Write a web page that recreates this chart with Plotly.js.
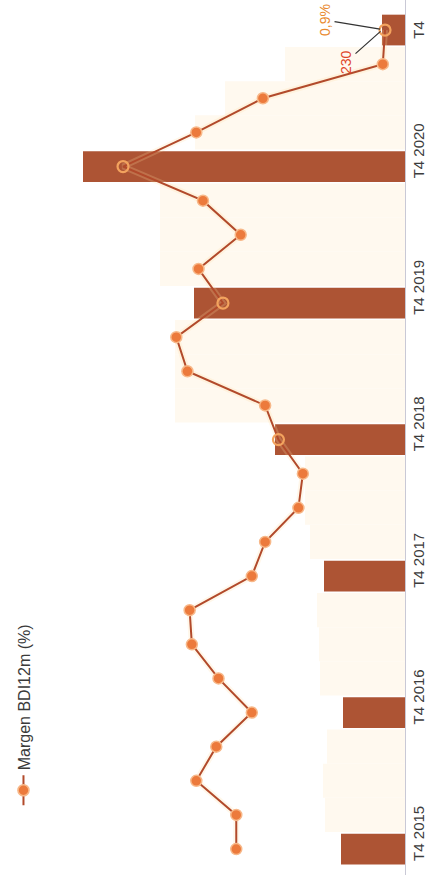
<!DOCTYPE html>
<html>
<head>
<meta charset="utf-8">
<script src="https://cdn.plot.ly/plotly-3.0.1.min.js"></script>
<style>
  html, body { margin: 0; padding: 0; background: #ffffff; overflow: hidden; width: 435px; height: 875px; }
  #wrap { position: absolute; left: 0; top: 0; width: 875px; height: 435px;
          transform-origin: 0 0; transform: translate(0px, 875px) rotate(-90deg); }
</style>
</head>
<body>
<div id="wrap"><div id="chart" style="width:875px;height:435px;"></div></div>
<script>
// Quarters (category order)
const quarters = ['T4 2015','T1 2016','T2 2016','T3 2016','T4 2016',
                  'T1 2017','T2 2017','T3 2017','T4 2017',
                  'T1 2018','T2 2018','T3 2018','T4 2018',
                  'T1 2019','T2 2019','T3 2019','T4 2019',
                  'T1 2020','T2 2020','T3 2020','T4 2020',
                  'T1 2021','T2 2021','T3 2021','T4 2021'];
// Bar values (volume)
const volumen = [640, 800, 820, 780, 620,
                 850, 860, 880, 810,
                 950, 1000, 1000, 1300,
                 2300, 2300, 2300, 2110,
                 2450, 2450, 2450, 3220,
                 2100, 1800, 1200, 230];
// Margen BDI12m (%)
const margen = [7.6, 7.6, 9.4, 8.5, 6.9,
                8.4, 9.6, 9.7, 6.9,
                6.3, 4.8, 4.6, 5.7,
                6.3, 9.8, 10.3, 8.2,
                9.3, 7.4, 9.1, 12.7,
                9.4, 6.4, 1.0, 0.9];
// Tick labels shown
const tickLabels = ['T4 2015','T4 2016','T4 2017','T4 2018','T4 2019','T4 2020','T4'];
const tickQuarters = ['T4 2015','T4 2016','T4 2017','T4 2018','T4 2019','T4 2020','T4 2021'];

const idx = quarters.map((q, i) => i);
const BROWN = '#AD5434', CREAM = '#FFF9EF';
const isT4 = quarters.map(q => q.startsWith('T4'));
const barColors = isT4.map(b => b ? BROWN : CREAM);
const barWidths = isT4.map(b => b ? 0.9 : 1.0);
// open markers where the point sits on a T4 bar
const onBar = quarters.map((q, i) => isT4[i] && (volumen[i] / 3650) >= (margen[i] / 16.44));
const symbols = onBar.map(b => b ? 'circle-open' : 'circle');
const mColors = onBar.map(b => b ? '#F3A35E' : '#EC7A3C');
const mLineW = onBar.map(b => b ? 2.2 : 1.5);
const mLineC = onBar.map(b => b ? '#F3A35E' : '#F7B889');

const tickvals = tickQuarters.map((q, k) => {
  const i = quarters.indexOf(q);
  return k === tickQuarters.length - 1 ? i : i + 0.46;
});

const traces = [
  { type: 'bar', x: idx, y: volumen, marker: { color: barColors, line: { width: 0 } },
    width: barWidths, showlegend: false, hoverinfo: 'skip' },
  { type: 'scatter', mode: 'lines', x: idx, y: margen, yaxis: 'y2',
    line: { color: 'rgba(255,220,160,0.22)', width: 6 }, showlegend: false, hoverinfo: 'skip' },
  { type: 'scatter', mode: 'lines+markers', x: idx, y: margen, yaxis: 'y2', name: 'Margen BDI12m (%)',
    line: { color: '#B24A2B', width: 2 },
    marker: { size: 11, symbol: symbols, color: mColors, line: { color: mLineC, width: mLineW } } }
];

const layout = {
  width: 875, height: 435,
  margin: { l: 0, r: 0, t: 40, b: 30 },
  paper_bgcolor: '#ffffff', plot_bgcolor: '#ffffff',
  font: { family: 'Liberation Sans, Arial, sans-serif', color: '#444' },
  bargap: 0.1,
  xaxis: { range: [-0.76, 24.88], tickvals: tickvals, ticktext: tickLabels,
           showgrid: false, zeroline: false, showline: true, linecolor: '#C9C9D6', linewidth: 1,
           ticks: '', tickfont: { size: 15, color: '#3c3c3c' }, ticklabelstandoff: 0 },
  yaxis: { range: [0, 3650], visible: false, showgrid: false, zeroline: false },
  yaxis2: { range: [0, 16.44], overlaying: 'y', visible: false, showgrid: false, zeroline: false },
  showlegend: true,
  legend: { x: 0.074, xanchor: 'left', y: 1.045, yanchor: 'middle', orientation: 'h',
            font: { size: 16, color: '#3a3a3a' }, bgcolor: 'rgba(0,0,0,0)' },
  annotations: [
    { x: 24, y: 0.9, xref: 'x', yref: 'y2', text: '0,9%', showarrow: true, arrowhead: 0,
      arrowcolor: '#333', arrowwidth: 1.2, ax: 10, ay: -60, font: { size: 14, color: '#E98A30' }, standoff: 5 },
    { x: 24, y: 230, xref: 'x', yref: 'y', text: '230', showarrow: true, arrowhead: 0,
      arrowcolor: '#333', arrowwidth: 1.2, ax: -32, ay: -36, font: { size: 14, color: '#E0452A' }, standoff: 2 }
  ]
};

Plotly.newPlot('chart', traces, layout, { displayModeBar: false, staticPlot: true });
</script>
</body>
</html>
